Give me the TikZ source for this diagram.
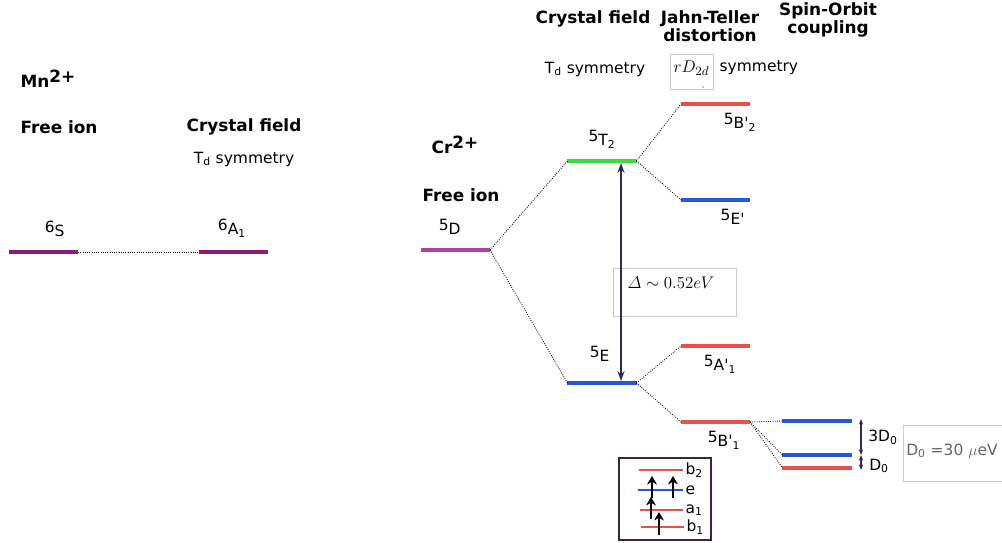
\documentclass[tikz,border=0pt]{standalone}
\usepackage{amsmath}
\usepackage{fontspec}
\setmainfont{DejaVu Sans}
\usetikzlibrary{arrows.meta,positioning}
\definecolor{mnpurple}{HTML}{8A1C7C}
\definecolor{dmagenta}{HTML}{A845A8}
\definecolor{tgreen}{HTML}{3DDB3D}
\definecolor{lvlblue}{HTML}{2458DA}
\definecolor{lvlred}{HTML}{E8504C}
\definecolor{arrownavy}{HTML}{2F2A4E}
\definecolor{boxgray}{HTML}{CCCCCC}
\definecolor{notegray}{HTML}{666666}
\definecolor{legendframe}{HTML}{3B2240}

\newcommand{\term}[3]{#1\raisebox{-0.5ex}{#2\textsubscript{#3}}}
\newcommand{\ion}[2]{#1\raisebox{0.55ex}{#2}}
\newcommand{\pr}{\textquotesingle}

\begin{document}
\begin{tikzpicture}[x=0.025cm, y=-0.025cm, >=Stealth, font=\fontsize{11}{13}\selectfont,
  lvl/.style={fill=#1, minimum width=1.725cm, minimum height=0.1cm, inner sep=0pt, outer sep=0pt},
  conn/.style={densely dotted, line width=0.6pt},
  head/.style={font=\fontsize{12}{12.5}\selectfont\bfseries, align=center},
  gap/.style={<->, arrownavy, line width=1.2pt, >={Stealth[length=7pt, width=5pt]}},
  split/.style={<->, arrownavy, line width=0.8pt, >={Stealth[length=4pt, width=3pt]}},
  orb/.style={line width=1.8pt},
  spin/.style={->, line width=1.4pt, >={Stealth[length=6pt, width=7pt]}}]
  \useasboundingbox (0,0) rectangle (1002,543);

  % Mn2+
  \node[head] (mnion) at (48,79) {\ion{Mn}{2+}};
  \node[head] (mnfree) at (59,127) {Free ion};
  \node[head] (mncf) at (244,127) {Crystal field};
  \node (mntd) at (244,159) {T\textsubscript{d} symmetry};
  \node[lvl=mnpurple] (S6) at (43.5,252) {};
  \node[lvl=mnpurple] (A6) at (233.5,252) {};
  \draw[conn] (S6) -- (A6);
  \node (S6lab) at (55,230) {\term{6}{S}{}};
  \node (A6lab) at (232,228) {\term{6}{A}{1}};

  % Cr2+ headers
  \node[head] (crion) at (455,145) {\ion{Cr}{2+}};
  \node[head] (crfree) at (461,195) {Free ion};
  \node[head] (crcf) at (593,19) {Crystal field};
  \node[head] (jt) at (710,26) {Jahn-Teller\\distortion};
  \node[head] (so) at (828,20) {Spin-Orbit\\coupling};
  \node (crtd) at (595,69) {T\textsubscript{d} symmetry};
  \node[draw=boxgray, minimum width=1.075cm, minimum height=0.875cm, inner sep=0pt] (dbox) at (691.5,71.5) {};
  \node[font=\fontsize{12.5}{14}\selectfont] (dsym) at (691.5,68) {$rD_{2d}$};
  \fill (703,87) circle (0.5pt);
  \node[right=1pt of dbox.east |- dsym] (jtsym) {symmetry};

  % Delta box
  \node[draw=boxgray, minimum width=3.075cm, minimum height=1.2cm, inner sep=0pt] (deltabox) at (674.5,292) {};
  \node[font=\fontsize{13}{15}\selectfont] (deltalab) at (671,283) {$\varDelta\sim 0.52eV$};

  % levels
  \node[lvl=dmagenta] (D5) at (455.5,250) {};
  \node[lvl=tgreen] (T2) at (602,161) {};
  \node[lvl=lvlblue] (E5) at (602,383) {};
  \node[lvl=lvlred] (Bp2) at (715.5,104) {};
  \node[lvl=lvlblue] (Ep) at (715.5,200) {};
  \node[lvl=lvlred] (Ap1) at (715.5,346) {};
  \node[lvl=lvlred] (Bp1) at (715.5,422) {};
  \node[lvl=lvlblue] (SOa) at (817,421) {};
  \node[lvl=lvlblue] (SOb) at (817,455) {};
  \node[lvl=lvlred] (SOc) at (817,468) {};

  \draw[conn] (D5.east) -- (T2.west);
  \draw[conn] (D5.east) -- (E5.west);
  \draw[conn] (T2.east) -- (Bp2.west);
  \draw[conn] (T2.east) -- (Ep.west);
  \draw[conn] (E5.east) -- (Ap1.west);
  \draw[conn] (E5.east) -- (Bp1.west);
  \draw[conn] (Bp1.east) -- (SOa.west);
  \draw[conn] (Bp1.east) -- (SOb.west);
  \draw[conn] (Bp1.east) -- (SOc.west);

  \node (D5lab) at (450,228) {\term{5}{D}{}};
  \node (T2lab) at (602,139) {\term{5}{T}{2}};
  \node (E5lab) at (600,355) {\term{5}{E}{}};
  \node (Bp2lab) at (740,122) {\term{5}{B\pr}{2}};
  \node (Eplab) at (733,218) {\term{5}{E\pr}{}};
  \node (Ap1lab) at (720,364) {\term{5}{A\pr}{1}};
  \node (Bp1lab) at (724,440) {\term{5}{B\pr}{1}};

  % crystal field gap
  \coordinate (gaplo) at (621,381);
  \coordinate (gaphi) at (621,163);
  \draw[gap] (gaplo) -- (gaphi);

  % zero-field splitting
  \coordinate (zfa) at (861,419);
  \coordinate (zfb) at (861,455);
  \coordinate (zfc) at (861,470);
  \draw[split] (zfa) -- (zfb);
  \draw[split] (zfb) -- (zfc);
  \node (zf3) at (883,437) {3D\textsubscript{0}};
  \node (zf1) at (879,466) {D\textsubscript{0}};
  \node[draw=boxgray, minimum width=2.5cm, minimum height=1.4cm, inner sep=0pt, anchor=west] (d0box) at (903,453) {};
  \node[notegray] (d0lab) at (952,451) {D\textsubscript{0} =30 $\mu$eV};

  % orbital filling
  \node[draw=legendframe, line width=1pt, minimum width=2.3cm, minimum height=2.05cm, inner sep=0pt] (legend) at (665,499) {};
  \draw[orb, lvlred] (639,470) -- (683,470) node[right, black, inner sep=1pt] (b2lab) {b\textsubscript{2}};
  \draw[orb, lvlblue] (638,490) -- (683,490) node[right, black, inner sep=1pt] (elab) {e};
  \draw[orb, lvlred] (640,510) -- (683,510) node[right, black, inner sep=1pt] (a1lab) {a\textsubscript{1}};
  \draw[orb, lvlred] (641,527) -- (684,527) node[right, black, inner sep=1pt] (b1lab) {b\textsubscript{1}};
  \draw[spin] (652,498) -- (652,476);
  \draw[spin] (673,498) -- (673,476);
  \draw[spin] (651,519) -- (651,497);
  \draw[spin] (659,535) -- (659,512);
\end{tikzpicture}
\end{document}
